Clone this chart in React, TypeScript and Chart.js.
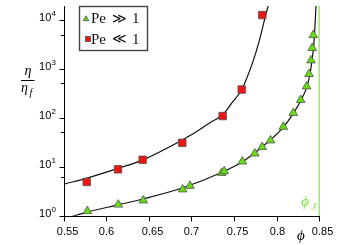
import React, { useEffect, useRef } from 'react';
import { Chart, registerables } from 'chart.js';

Chart.register(...registerables);

// Pe >> 1 data (green triangles)
const phiPeHigh = [0.5763, 0.6127, 0.6421, 0.6884, 0.697, 0.7343, 0.7374, 0.7586, 0.7733, 0.782, 0.7918, 0.8068, 0.8186, 0.8273, 0.8343, 0.8371, 0.8394, 0.8409, 0.8421];
const etaPeHigh = [1.29, 1.75, 2.13, 3.57, 4.23, 7.78, 8.4, 13.3, 19.4, 26.4, 35.9, 68, 131, 241, 457, 818, 1552, 2774, 5100];

// Pe << 1 data (red squares)
const phiPeLow = [0.5755, 0.6124, 0.6414, 0.688, 0.7355, 0.7579, 0.7821];
const etaPeLow = [5.08, 9.2, 14.4, 32, 113, 393, 13100];

// fit curves
const phiFitHigh = [0.5579, 0.5759, 0.6124, 0.6418, 0.6888, 0.7347, 0.7582, 0.7818, 0.8065, 0.8182, 0.8276, 0.8347, 0.8382, 0.8406, 0.8424, 0.8435, 0.8453];
const etaFitHigh = [1.0, 1.23, 1.73, 2.28, 3.86, 8.03, 13.0, 26.4, 65.9, 125, 238, 451, 818, 1552, 2813, 5100, 20100];
const phiFitLow = [0.55, 0.5759, 0.6124, 0.6418, 0.6618, 0.6971, 0.7206, 0.7355, 0.7461, 0.7579, 0.7712, 0.7782, 0.7861, 0.789];
const etaFitLow = [4.63, 6.1, 9.64, 14.4, 21.0, 45.1, 82.9, 120, 207, 393, 1483, 3705, 13100, 20100];

const PHI_J = 0.849;
const X_MIN = 0.55;
const X_MAX = 0.85;
const Y_MIN = 1;
const Y_MAX = 20000;
const xTicks = [0.55, 0.6, 0.65, 0.7, 0.75, 0.8, 0.85];
const xTickLabels = ['0.55', '0.6', '0.65', '0.7', '0.75', '0.8', '0.85'];
const legendLabels = [
  ['Pe', '≫', '1'],
  ['Pe', '≪', '1'],
];

const GREEN = '#66dd11';
const RED = '#f01414';
const MARK_BORDER = '#505050';
const PHIJ_COLOR = '#7fe038';
const SANS = "'Liberation Sans', Arial, sans-serif";
const SERIF = "'Liberation Serif', 'DejaVu Serif', serif";

function drawTriangle(ctx: CanvasRenderingContext2D, x: number, y: number, r: number) {
  ctx.beginPath();
  ctx.moveTo(x, y - r);
  ctx.lineTo(x + r * 0.866, y + r * 0.5);
  ctx.lineTo(x - r * 0.866, y + r * 0.5);
  ctx.closePath();
  ctx.fillStyle = GREEN;
  ctx.fill();
  ctx.strokeStyle = MARK_BORDER;
  ctx.lineWidth = 0.8;
  ctx.stroke();
}

const customPlugin = {
  id: 'customAxes',
  beforeDatasetsDraw(chart: any) {
    const { ctx, chartArea: a } = chart;
    const xs = chart.scales.x;
    const xj = xs.getPixelForValue(PHI_J);
    ctx.save();
    ctx.strokeStyle = PHIJ_COLOR;
    ctx.lineWidth = 1.1;
    ctx.beginPath();
    ctx.moveTo(xj, a.top);
    ctx.lineTo(xj, a.bottom);
    ctx.stroke();
    ctx.fillStyle = PHIJ_COLOR;
    ctx.textAlign = 'left';
    ctx.textBaseline = 'alphabetic';
    ctx.font = `italic 15px ${SERIF}`;
    ctx.fillText('ϕ', xj - 18, a.bottom - 10.5);
    ctx.font = `italic 11px ${SERIF}`;
    ctx.fillText('J', xj - 8, a.bottom - 7);
    ctx.restore();
  },
  afterDatasetsDraw(chart: any) {
    const { ctx, chartArea: a } = chart;
    const xs = chart.scales.x;
    const ys = chart.scales.y;
    ctx.save();
    ctx.strokeStyle = '#000';
    ctx.lineWidth = 1;
    const L = a.left - 0.5;
    const B = a.bottom;
    // axis lines
    ctx.beginPath();
    ctx.moveTo(L, a.top);
    ctx.lineTo(L, B);
    ctx.lineTo(a.right, B);
    ctx.stroke();

    // x ticks and labels
    ctx.font = `11px ${SANS}`;
    ctx.fillStyle = '#000';
    ctx.textBaseline = 'alphabetic';
    ctx.textAlign = 'left';
    xTicks.forEach((v, i) => {
      const px = Math.round(xs.getPixelForValue(v)) - 0.5;
      ctx.beginPath();
      ctx.moveTo(px, B);
      ctx.lineTo(px, B + 5);
      ctx.stroke();
      const lab = xTickLabels[i];
      const w3 = ctx.measureText(lab.slice(0, 3)).width;
      ctx.fillText(lab, px - w3 / 2, B + 18.5);
    });

    // y ticks (library log ticks) and labels
    ys.ticks.forEach((t: any) => {
      const v = t.value;
      if (v < Y_MIN || v > Y_MAX) return;
      const e = Math.log10(v);
      const major = Math.abs(e - Math.round(e)) < 1e-9;
      const py = Math.round(ys.getPixelForValue(v)) - 0.5;
      ctx.beginPath();
      ctx.moveTo(L, py);
      ctx.lineTo(L - (major ? 5 : 3.5), py);
      ctx.stroke();
      if (major) {
        const exp = String(Math.round(e));
        ctx.font = `8px ${SANS}`;
        ctx.textAlign = 'right';
        const right = 56;
        const we = ctx.measureText(exp).width;
        ctx.fillText(exp, right, py - 4.5);
        ctx.font = `11px ${SANS}`;
        ctx.fillText('10', right - we - 0.3, py);
      }
    });

    // y title: eta / eta_f
    ctx.textAlign = 'center';
    ctx.font = `italic 14px ${SERIF}`;
    ctx.fillText('η', 28, 75);
    ctx.beginPath();
    ctx.moveTo(21, 80.5);
    ctx.lineTo(34.5, 80.5);
    ctx.stroke();
    ctx.textAlign = 'left';
    ctx.fillText('η', 21, 92);
    ctx.font = `italic 10px ${SERIF}`;
    ctx.fillText('f', 29.5, 96);

    // x title
    ctx.font = `italic 15px ${SERIF}`;
    ctx.textAlign = 'center';
    ctx.fillText('ϕ', 301, 240);
    ctx.restore();
  },
  afterDraw(chart: any) {
    const { ctx } = chart;
    ctx.save();
    // legend box
    ctx.fillStyle = '#fff';
    ctx.fillRect(79.5, 6.5, 68, 44);
    ctx.strokeStyle = '#444';
    ctx.lineWidth = 1.4;
    ctx.strokeRect(79.5, 6.5, 68, 44);
    // markers
    drawTriangle(ctx, 86, 19, 3.3);
    ctx.fillStyle = RED;
    ctx.fillRect(85.5, 36.5, 5, 5);
    ctx.strokeStyle = MARK_BORDER;
    ctx.lineWidth = 0.8;
    ctx.strokeRect(85.5, 36.5, 5, 5);
    // text
    ctx.fillStyle = '#111';
    ctx.textBaseline = 'alphabetic';
    ctx.textAlign = 'left';
    const baselines = [23, 43.5];
    legendLabels.forEach((parts, i) => {
      const by = baselines[i];
      ctx.font = `15px ${SERIF}`;
      ctx.fillText(parts[0], 91, by);
      ctx.font = `14px 'DejaVu Serif', serif`;
      ctx.fillText(parts[1], 112, by - 0.5);
      ctx.font = `15px ${SERIF}`;
      ctx.fillText(parts[2], 132, by);
    });
    ctx.restore();
  },
};

export default function App() {
  const ref = useRef<HTMLCanvasElement | null>(null);
  useEffect(() => {
    const canvas = ref.current;
    if (!canvas) return;
    const chart = new Chart(canvas, {
      type: 'scatter',
      data: {
        datasets: [
          {
            label: 'Pe ≫ 1',
            data: phiPeHigh.map((x, i) => ({ x, y: etaPeHigh[i] })),
            pointStyle: 'triangle',
            pointRadius: 5,
            backgroundColor: GREEN,
            borderColor: MARK_BORDER,
            borderWidth: 0.8,
            showLine: false,
            order: 0,
          },
          {
            label: 'Pe ≪ 1',
            data: phiPeLow.map((x, i) => ({ x, y: etaPeLow[i] })),
            pointStyle: 'rect',
            pointRadius: 5.3,
            backgroundColor: RED,
            borderColor: MARK_BORDER,
            borderWidth: 0.8,
            showLine: false,
            order: 0,
          },
          {
            label: 'fit high',
            data: phiFitHigh.map((x, i) => ({ x, y: etaFitHigh[i] })),
            showLine: true,
            pointRadius: 0,
            borderColor: '#111',
            borderWidth: 1.2,
            cubicInterpolationMode: 'monotone',
            order: 1,
          },
          {
            label: 'fit low',
            data: phiFitLow.map((x, i) => ({ x, y: etaFitLow[i] })),
            showLine: true,
            pointRadius: 0,
            borderColor: '#111',
            borderWidth: 1.2,
            cubicInterpolationMode: 'monotone',
            order: 1,
          },
        ],
      } as any,
      options: {
        animation: false,
        responsive: false,
        maintainAspectRatio: false,
        events: [],
        layout: { padding: { left: 65, right: 19, top: 0, bottom: 28.5 } },
        plugins: { legend: { display: false }, tooltip: { enabled: false } },
        scales: {
          x: { type: 'linear', min: X_MIN, max: X_MAX, display: false },
          y: { type: 'logarithmic', min: Y_MIN, max: Y_MAX, display: false },
        },
      } as any,
      plugins: [customPlugin],
    });
    return () => chart.destroy();
  }, []);
  return (
    <div style={{ position: 'fixed', left: 0, top: 0, width: 339, height: 245, background: '#fff' }}>
      <canvas ref={ref} width={339} height={245} style={{ display: 'block', width: 339, height: 245 }} />
    </div>
  );
}
